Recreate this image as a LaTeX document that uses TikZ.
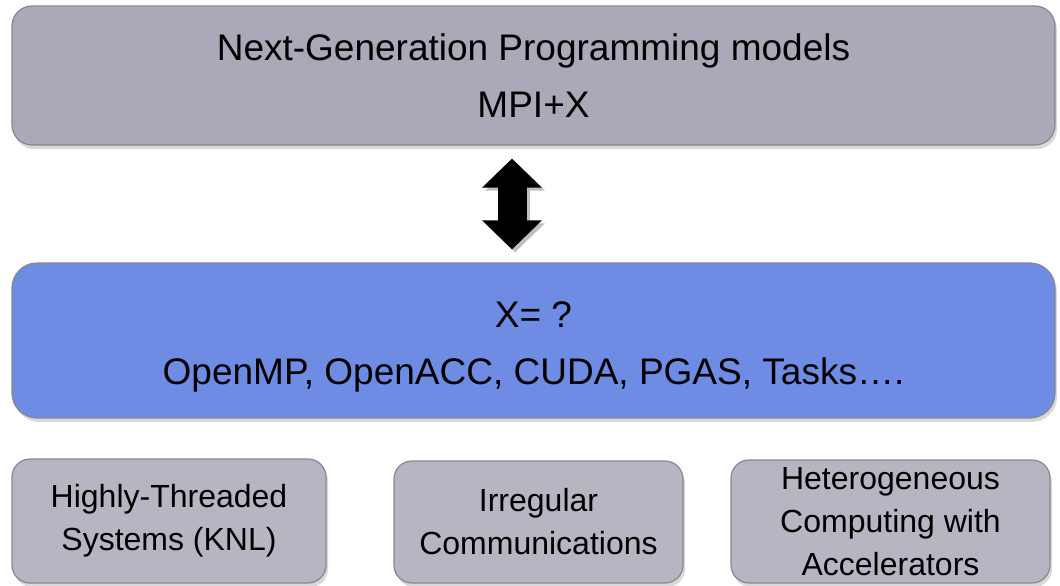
\documentclass[tikz,border=0pt]{standalone}
\usepackage{fontspec}
\setmainfont{Liberation Sans}
\usetikzlibrary{shadows,arrows.meta}
\definecolor{boxgray}{RGB}{170,169,184}
\definecolor{boxblue}{RGB}{110,140,227}
\definecolor{boxlight}{RGB}{182,182,194}
\definecolor{boxline}{RGB}{135,135,145}
\begin{document}
\begin{tikzpicture}[x=1pt,y=-1pt,
    box/.style={draw=boxline, line width=1.2pt, inner sep=0pt, align=center,
      drop shadow={shadow xshift=2pt, shadow yshift=-4pt, opacity=0.3}},
    bigtext/.style={font=\fontsize{37}{57}\selectfont},
    smalltext/.style={font=\fontsize{32}{43}\selectfont},
    dblarrow/.style={line width=29pt, {Triangle[width=58pt,length=29pt]}-{Triangle[width=58pt,length=29pt]},
      shorten <=13pt, shorten >=13pt}]
  \useasboundingbox (0,0) rectangle (1060,586);

  \node[box, bigtext, fill=boxgray, rounded corners=20pt, minimum width=1043pt, minimum height=139pt] (model) at (533.5,75.5)
    {Next-Generation Programming models\\MPI+X};
  \node[box, fill=boxblue, rounded corners=25pt, minimum width=1043pt, minimum height=155pt,
    label={[bigtext, align=center, yshift=-6pt]center:{X= ?\\OpenMP, OpenACC, CUDA, PGAS, Tasks….}}] (xbox) at (533.5,340.5) {};

  \node[box, smalltext, fill=boxlight, rounded corners=18pt, minimum width=314pt, minimum height=124pt] (knl) at (169,521)
    {Highly-Threaded\\Systems (KNL)};
  \node[box, smalltext, fill=boxlight, rounded corners=18pt, minimum width=289pt, minimum height=122pt] (comm) at (538.5,522)
    {Irregular\\Communications};
  \node[box, smalltext, fill=boxlight, rounded corners=18pt, minimum width=319pt, minimum height=123pt] (accel) at (890.5,521.5)
    {Heterogeneous\\Computing with\\Accelerators};

  \coordinate (arr) at (512,0);
  \draw[dblarrow, draw=black!25, transform canvas={xshift=3pt,yshift=-3pt}] (model.south -| arr) -- (xbox.north -| arr);
  \draw[dblarrow] (model.south -| arr) -- (xbox.north -| arr);
\end{tikzpicture}
\end{document}
